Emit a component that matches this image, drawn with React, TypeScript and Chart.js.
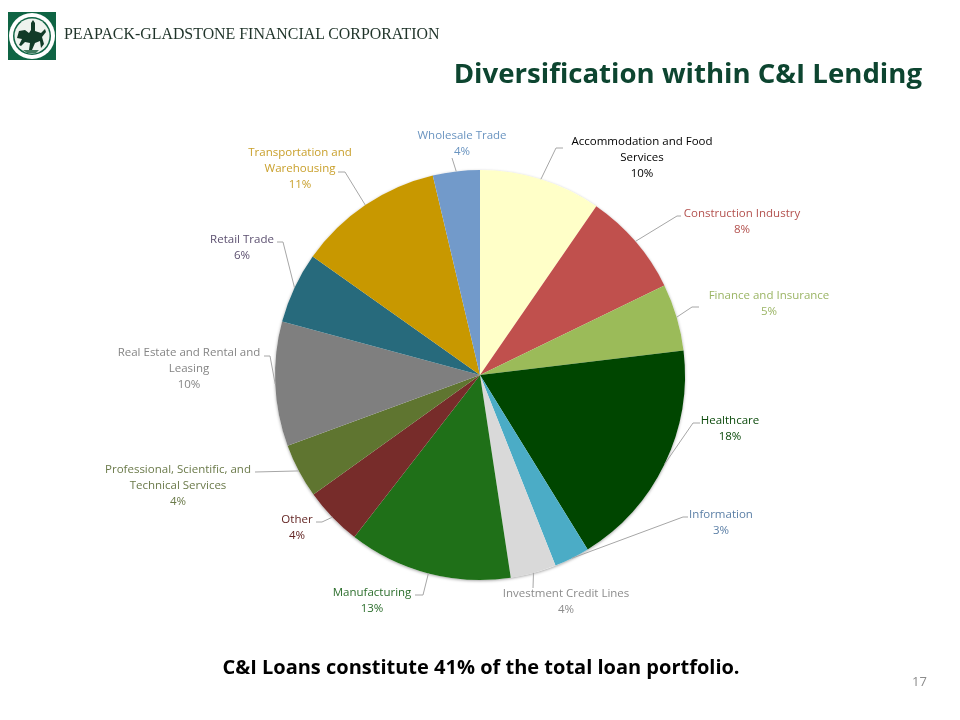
import React, { useEffect, useRef } from "react";
import { Chart, registerables } from "chart.js";

Chart.register(...registerables);

const categories = [
  "Accommodation and Food Services", "Construction Industry", "Finance and Insurance", "Healthcare",
  "Information", "Investment Credit Lines", "Manufacturing", "Other",
  "Professional, Scientific, and Technical Services", "Real Estate and Rental and Leasing",
  "Retail Trade", "Transportation and Warehousing", "Wholesale Trade",
];
const values = [9.6, 8.2, 5.3, 18.1, 2.8, 3.6, 12.9, 4.6, 4.3, 9.8, 5.6, 11.5, 3.7];
const percentLabels = ["10%", "8%", "5%", "18%", "3%", "4%", "13%", "4%", "4%", "10%", "6%", "11%", "4%"];
const sliceColors = [
  "#ffffc8", "#c0504d", "#9bbb59", "#004600", "#4bacc6", "#d9d9d9", "#1f7018",
  "#772c2a", "#5f7530", "#7f7f7f", "#276a7c", "#c89800", "#729aca",
];
const labelColors = [
  "#000000", "#b3514e", "#9bb565", "#0b4a0b", "#5b7fa6", "#8c8c8c", "#2c6e2c",
  "#632523", "#6b7a4a", "#858585", "#5c5070", "#c9a02c", "#6a94c0",
];
const labelLines = [
  ["Accommodation and Food", "Services"], ["Construction Industry"], ["Finance and Insurance"], ["Healthcare"],
  ["Information"], ["Investment Credit Lines"], ["Manufacturing"], ["Other"],
  ["Professional, Scientific, and", "Technical Services"], ["Real Estate and Rental and", "Leasing"],
  ["Retail Trade"], ["Transportation and", "Warehousing"], ["Wholesale Trade"],
];
// layout of labels: [centre x, first line y]
const labelPlace = [
  [642, 142], [742, 214], [769, 296], [730, 421], [721, 515], [566, 594], [372, 593],
  [297, 520], [178, 470], [189, 353], [242, 240], [300, 153], [462, 136],
];
// leader line bends after leaving the slice rim
const leaderBends = [
  [[556, 148], [563, 148]], [[677, 216], [681, 216]], [[692, 307], [699, 307]], [[693, 423], [700, 423]],
  [[683, 517], [688, 517]], [[533, 588]], [[423, 595], [415, 595]], [[322, 522], [316, 522]],
  [[255, 472]], [[270, 356], [264, 356]], [[283, 242], [277, 242]], [[345, 172], [338, 172]], [[452, 158]],
];

const LABEL_FONT = "11.5px 'Open Sans'";
const LINE_H = 16;

const pieExtras = {
  id: "pieExtras",
  beforeDatasetsDraw(chart: any) {
    const arc = chart.getDatasetMeta(0).data[0];
    const { ctx } = chart;
    ctx.save();
    ctx.shadowColor = "rgba(0,0,0,0.35)";
    ctx.shadowBlur = 3;
    ctx.shadowOffsetY = 1;
    ctx.fillStyle = "#fff";
    ctx.beginPath();
    ctx.arc(arc.x, arc.y, arc.outerRadius, 0, Math.PI * 2);
    ctx.fill();
    ctx.restore();
  },
  afterDatasetsDraw(chart: any) {
    const { ctx } = chart;
    ctx.save();
    chart.getDatasetMeta(0).data.forEach((arc: any, i: number) => {
      const mid = (arc.startAngle + arc.endAngle) / 2;
      ctx.strokeStyle = "#a6a6a6";
      ctx.lineWidth = 1;
      ctx.beginPath();
      ctx.moveTo(arc.x + Math.cos(mid) * arc.outerRadius, arc.y + Math.sin(mid) * arc.outerRadius);
      leaderBends[i].forEach(([x, y]) => ctx.lineTo(x, y));
      ctx.stroke();

      const [cx, y0] = labelPlace[i];
      ctx.font = LABEL_FONT;
      ctx.fillStyle = labelColors[i];
      ctx.textAlign = "center";
      ctx.textBaseline = "middle";
      [...labelLines[i], percentLabels[i]].forEach((t, k) => ctx.fillText(t, cx, y0 + k * LINE_H));
    });
    ctx.restore();
  },
};

function Logo() {
  return (
    <svg width="48" height="48" viewBox="0 0 48 48" style={{ position: "absolute", left: 8, top: 12 }}>
      <rect width="48" height="48" fill="#0f6444" />
      <circle cx="24" cy="24" r="23" fill="#ffffff" />
      <circle cx="24" cy="24" r="19" fill="#0f6444" />
      <circle cx="24" cy="24" r="17.5" fill="#eef3ee" />
      <path d="M9 26 L11 19 L17 18 L21 21 L23 18 L23 11 L25 8 L27 11 L27 19 L33 21 L37 17 L38 20 L34 25 L36 32 L33 36 L32 29 L27 31 L24 38 L21 38 L22 31 L17 30 L13 34 L11 33 L14 27 Z" fill="#123b28" />
      <path d="M15 38 L31 38 L28 41 L19 41 Z" fill="#3f7a5e" />
    </svg>
  );
}

export default function App() {
  const ref = useRef<HTMLCanvasElement>(null);
  useEffect(() => {
    const chart = new Chart(ref.current!, {
      type: "pie",
      data: {
        labels: categories,
        datasets: [{ data: values, backgroundColor: sliceColors, borderWidth: 0 }],
      },
      options: {
        animation: false,
        responsive: false,
        layout: { padding: { top: 170, bottom: 140, left: 100, right: 100 } },
        plugins: { legend: { display: false }, tooltip: { enabled: false } },
      },
      plugins: [pieExtras],
    } as any);
    return () => chart.destroy();
  }, []);

  const abs: React.CSSProperties = { position: "absolute", whiteSpace: "nowrap", margin: 0 };
  return (
    <div style={{ position: "absolute", left: 0, top: 0, width: 960, height: 720, background: "#fff", overflow: "hidden" }}>
      <canvas ref={ref} width={960} height={720} style={{ position: "absolute", left: 0, top: 0 }} />
      <Logo />
      <div style={{ ...abs, left: 64, top: 24, fontFamily: "'Liberation Serif'", fontSize: 15.9, color: "#1f3329", lineHeight: "20px" }}>
        PEAPACK-GLADSTONE FINANCIAL CORPORATION
      </div>
      <div style={{ ...abs, right: 38, top: 52, fontFamily: "'Open Sans'", fontWeight: 700, fontSize: 27.6, color: "#0d4530", lineHeight: "40px" }}>
        Diversification within C&amp;I Lending
      </div>
      <div style={{ ...abs, left: 0, width: 962, textAlign: "center", top: 654, fontFamily: "'Open Sans'", fontWeight: 700, fontSize: 20, color: "#000", lineHeight: "26px" }}>
        C&amp;I Loans constitute 41% of the total loan portfolio.
      </div>
      <div style={{ ...abs, left: 912, top: 672, fontFamily: "'Open Sans'", fontSize: 13, color: "#8c8c8c", lineHeight: "18px" }}>
        17
      </div>
    </div>
  );
}
